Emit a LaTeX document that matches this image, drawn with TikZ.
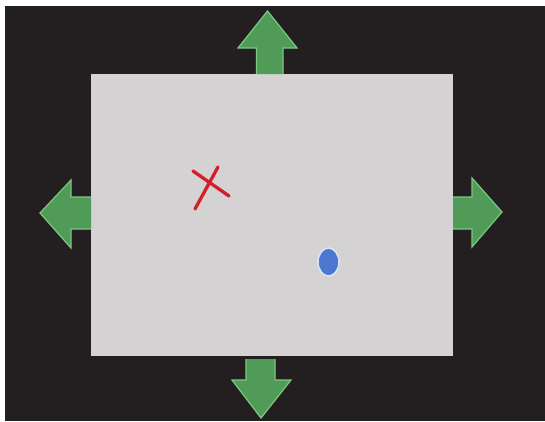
\documentclass[tikz,border=0pt]{standalone}
\usepackage{xcolor}
\usepackage{tikz}
\definecolor{board}{HTML}{231F20}
\definecolor{panel}{HTML}{D4D2D3}
\definecolor{leaf}{HTML}{4F9B57}
\definecolor{leafedge}{HTML}{7CC781}
\definecolor{mark}{HTML}{D2202A}
\definecolor{dot}{HTML}{4B77CF}

\begin{document}
\begin{tikzpicture}[
  x=1pt,y=-1pt,
  push/.style={fill=leaf,draw=leafedge,line width=1.2pt,line join=miter},
  cross/.style={draw=mark,line width=3.3pt,line cap=round}
]
\useasboundingbox (0,0) rectangle (545,421);
\fill[board] (5,6) rectangle (545,421);
% screen
\fill[panel] (91,74) rectangle (453,356);
% arrows out of each side
\draw[push] (256.5,74) -- (256.5,48) -- (238,48) -- (267.5,11) -- (297,48) -- (283,48) -- (283,74);
\draw[push] (91,197) -- (71,197) -- (71,180) -- (40,213) -- (71,248) -- (71,229) -- (91,229);
\draw[push] (453,197) -- (472,197) -- (472,178) -- (502,212) -- (472,247) -- (472,229) -- (453,229);
\draw[push] (246,359) -- (246,380) -- (232,380) -- (261,418) -- (291,380) -- (275,380) -- (275,359);
% target and point
\draw[cross] (193,171) -- (229,196);
\draw[cross] (218,167) -- (195,209);
\fill[dot,draw=white!80!dot,line width=1.6pt] (328.5,262) ellipse [x radius=10.5,y radius=14];
\end{tikzpicture}
\end{document}
